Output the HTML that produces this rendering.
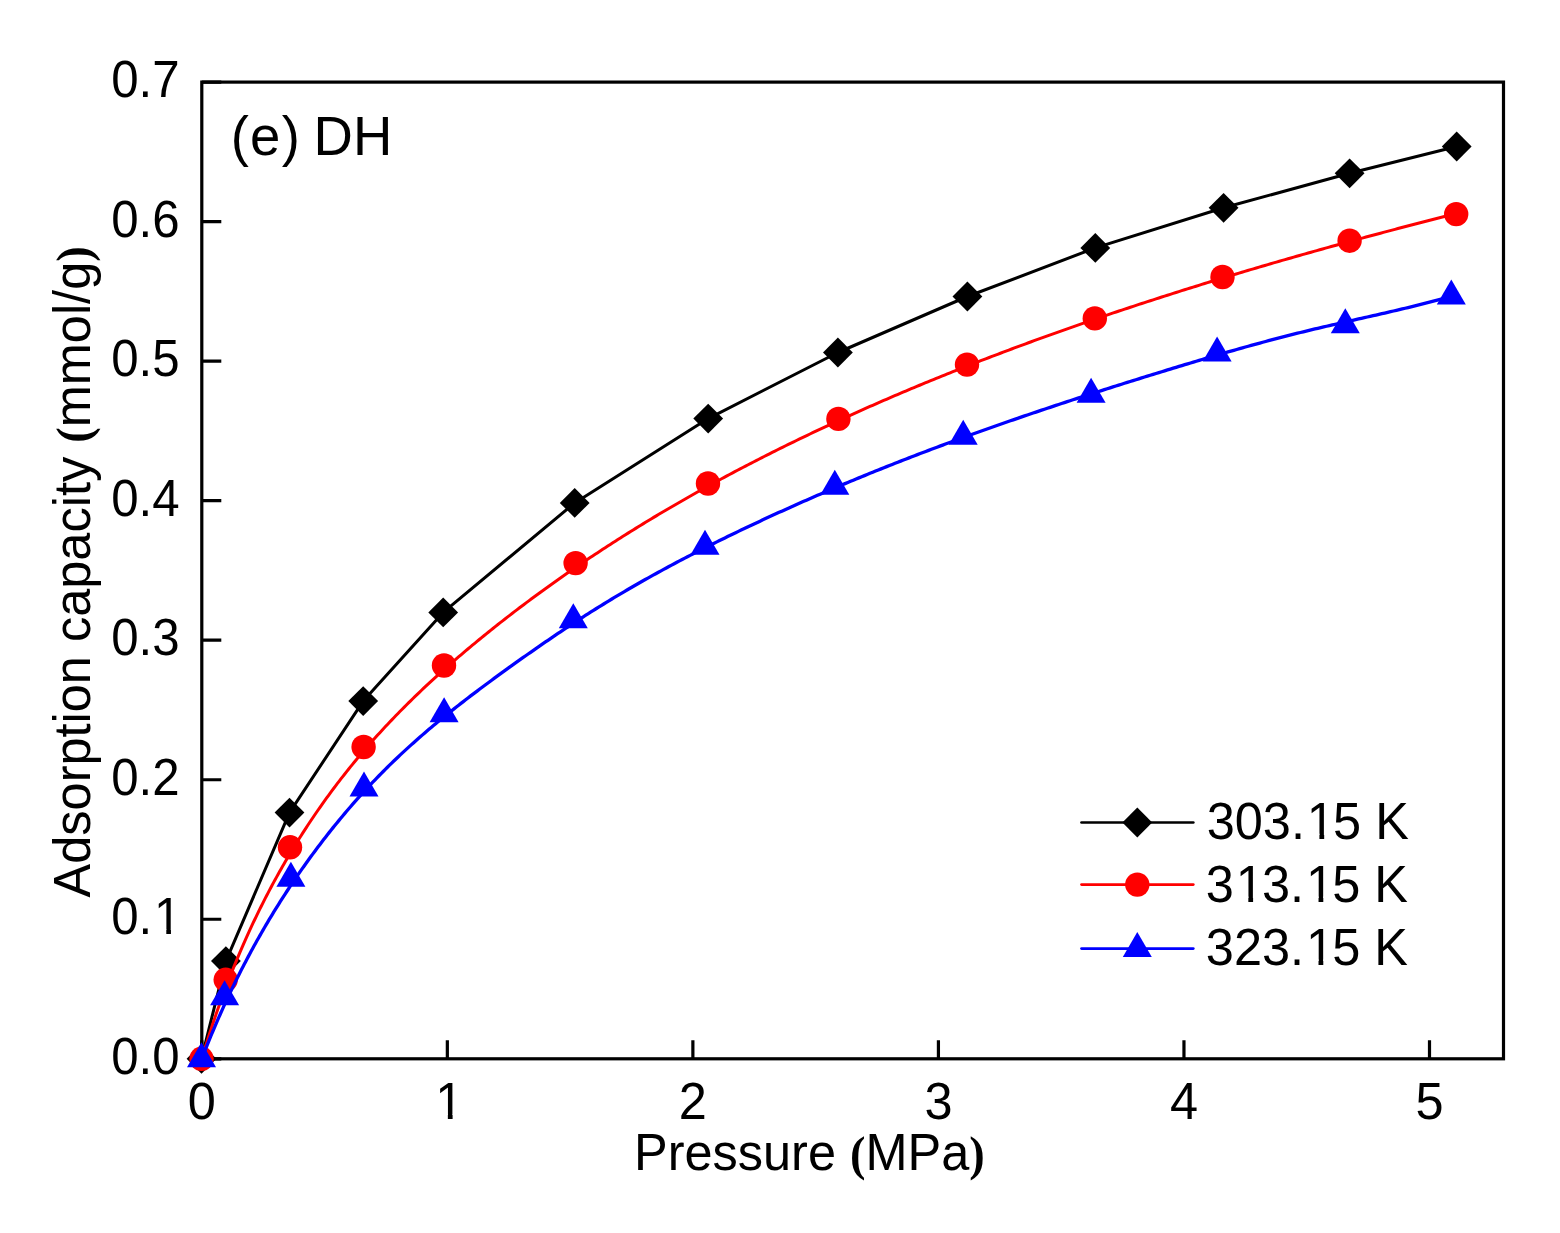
<!DOCTYPE html><html><head><meta charset="utf-8"><title>Adsorption capacity</title><style>html,body{margin:0;padding:0;background:#fff}svg{display:block}text{font-family:"Liberation Sans",Arial,sans-serif;fill:#000}.sf{font-family:"Liberation Serif","Times New Roman",serif;font-weight:bold}</style></head><body>
<svg width="1560" height="1233" viewBox="0 0 1560 1233">
<rect width="1560" height="1233" fill="#fff"/>
<rect x="201.8" y="82.1" width="1301.7" height="976.7" fill="none" stroke="#000" stroke-width="3.2"/>
<path fill="none" stroke="#000" stroke-width="3.2" d="M201.8 1058.8H221.3 M201.8 919.271H221.3 M201.8 779.743H221.3 M201.8 640.214H221.3 M201.8 500.686H221.3 M201.8 361.157H221.3 M201.8 221.629H221.3 M201.8 82.1H221.3 M201.8 1058.8V1040.2 M447.34 1058.8V1040.2 M692.88 1058.8V1040.2 M938.42 1058.8V1040.2 M1183.96 1058.8V1040.2 M1429.5 1058.8V1040.2"/>
<path fill="none" stroke="#000" stroke-width="3" stroke-linejoin="round" d="M201.5 1058.8 L225.9 961.1 L289.5 812.6 L363.2 701.1 L443.2 612.4 L574.7 502.9 L708.2 418.6 L837.9 352.5 L967.4 296.5 L1095.3 247.9 L1223.6 207.8 L1349.6 173.3 L1456.7 146.5"/>
<g fill="#000"><path d="M201.5 1043.9L216.4 1058.8L201.5 1073.7L186.6 1058.8Z"/><path d="M225.9 946.2L240.8 961.1L225.9 976L211 961.1Z"/><path d="M289.5 797.7L304.4 812.6L289.5 827.5L274.6 812.6Z"/><path d="M363.2 686.2L378.1 701.1L363.2 716L348.3 701.1Z"/><path d="M443.2 597.5L458.1 612.4L443.2 627.3L428.3 612.4Z"/><path d="M574.7 488L589.6 502.9L574.7 517.8L559.8 502.9Z"/><path d="M708.2 403.7L723.1 418.6L708.2 433.5L693.3 418.6Z"/><path d="M837.9 337.6L852.8 352.5L837.9 367.4L823 352.5Z"/><path d="M967.4 281.6L982.3 296.5L967.4 311.4L952.5 296.5Z"/><path d="M1095.3 233L1110.2 247.9L1095.3 262.8L1080.4 247.9Z"/><path d="M1223.6 192.9L1238.5 207.8L1223.6 222.7L1208.7 207.8Z"/><path d="M1349.6 158.4L1364.5 173.3L1349.6 188.2L1334.7 173.3Z"/><path d="M1456.7 131.6L1471.6 146.5L1456.7 161.4L1441.8 146.5Z"/></g>
<path fill="none" stroke="#f00" stroke-width="3" stroke-linejoin="round" d="M201.8 1058.8 L202.639 1055.994 L203.487 1053.174 L204.342 1050.356 L205.205 1047.538 L206.076 1044.723 L206.955 1041.908 L207.842 1039.096 L208.737 1036.284 L209.641 1033.474 L210.553 1030.666 L211.474 1027.86 L212.403 1025.055 L213.34 1022.251 L214.286 1019.45 L215.241 1016.65 L216.204 1013.851 L217.177 1011.055 L218.158 1008.26 L219.148 1005.467 L220.146 1002.676 L221.154 999.887 L222.171 997.1 L223.197 994.315 L224.232 991.532 L225.277 988.751 L226.331 985.971 L227.394 983.194 L228.466 980.42 L229.548 977.647 L230.639 974.877 L231.74 972.109 L232.85 969.343 L233.97 966.579 L235.1 963.818 L236.24 961.06 L237.389 958.304 L238.548 955.551 L239.716 952.8 L240.895 950.052 L242.084 947.306 L243.282 944.564 L244.491 941.824 L245.709 939.087 L246.938 936.353 L248.176 933.623 L249.425 930.895 L250.684 928.17 L251.953 925.449 L253.232 922.731 L254.521 920.016 L255.821 917.305 L257.131 914.598 L258.451 911.893 L259.781 909.193 L261.122 906.496 L262.473 903.803 L263.834 901.115 L265.205 898.43 L266.587 895.749 L267.979 893.072 L269.382 890.4 L270.795 887.732 L272.218 885.068 L273.652 882.409 L275.095 879.754 L276.55 877.105 L278.014 874.46 L279.489 871.82 L280.974 869.185 L282.469 866.555 L283.975 863.931 L285.491 861.312 L287.017 858.698 L288.554 856.09 L290.1 853.488 L291.657 850.892 L293.224 848.302 L294.801 845.718 L296.388 843.14 L297.986 840.568 L299.593 838.003 L301.21 835.445 L302.838 832.893 L304.475 830.349 L306.123 827.811 L307.78 825.281 L309.447 822.758 L311.124 820.242 L312.81 817.735 L314.507 815.235 L316.213 812.743 L317.929 810.258 L319.654 807.782 L321.389 805.313 L323.133 802.853 L324.887 800.4 L326.651 797.955 L328.423 795.519 L330.205 793.091 L331.997 790.671 L333.797 788.259 L335.607 785.855 L337.426 783.46 L339.254 781.073 L341.091 778.694 L342.937 776.323 L344.792 773.962 L346.655 771.608 L348.528 769.263 L350.409 766.926 L352.299 764.598 L354.197 762.279 L356.104 759.968 L358.02 757.665 L359.944 755.372 L361.876 753.086 L363.817 750.81 L365.766 748.542 L367.723 746.283 L369.688 744.032 L371.662 741.79 L373.643 739.557 L375.633 737.333 L377.63 735.117 L379.635 732.91 L381.648 730.712 L383.669 728.522 L385.697 726.341 L387.733 724.168 L389.776 722.004 L391.827 719.848 L393.885 717.7 L395.951 715.561 L398.024 713.43 L400.104 711.306 L402.192 709.191 L404.286 707.084 L406.388 704.985 L408.496 702.893 L410.612 700.809 L412.734 698.733 L414.863 696.664 L416.999 694.603 L419.142 692.549 L421.291 690.502 L423.447 688.463 L425.609 686.43 L427.778 684.405 L429.953 682.386 L432.135 680.374 L434.322 678.369 L436.517 676.371 L438.717 674.378 L440.923 672.393 L443.136 670.413 L445.354 668.44 L447.579 666.472 L449.809 664.511 L452.045 662.555 L454.288 660.605 L456.535 658.66 L458.789 656.721 L461.048 654.787 L463.313 652.858 L465.583 650.935 L467.859 649.016 L470.14 647.103 L472.427 645.194 L474.719 643.29 L477.016 641.392 L479.319 639.498 L481.627 637.609 L483.94 635.725 L486.258 633.846 L488.581 631.972 L490.909 630.103 L493.242 628.239 L495.58 626.379 L497.923 624.525 L500.271 622.675 L502.624 620.831 L504.981 618.991 L507.343 617.156 L509.71 615.325 L512.081 613.5 L514.457 611.679 L516.837 609.864 L519.222 608.053 L521.611 606.247 L524.005 604.445 L526.403 602.649 L528.806 600.857 L531.213 599.07 L533.624 597.288 L536.039 595.511 L538.459 593.738 L540.882 591.971 L543.31 590.208 L545.742 588.449 L548.177 586.696 L550.617 584.947 L553.061 583.204 L555.509 581.465 L557.96 579.73 L560.416 578.001 L562.875 576.276 L565.338 574.556 L567.805 572.841 L570.276 571.131 L572.75 569.425 L575.228 567.724 L577.709 566.028 L580.194 564.337 L582.683 562.651 L585.175 560.969 L587.671 559.292 L590.17 557.62 L592.673 555.953 L595.179 554.291 L597.688 552.633 L600.201 550.981 L602.717 549.333 L605.236 547.69 L607.759 546.052 L610.285 544.419 L612.814 542.79 L615.346 541.167 L617.882 539.548 L620.42 537.934 L622.962 536.326 L625.506 534.722 L628.054 533.123 L630.605 531.529 L633.159 529.939 L635.715 528.355 L638.275 526.776 L640.838 525.202 L643.403 523.632 L645.972 522.068 L648.543 520.509 L651.117 518.954 L653.694 517.405 L656.273 515.86 L658.856 514.32 L661.441 512.785 L664.029 511.255 L666.619 509.73 L669.212 508.209 L671.808 506.694 L674.407 505.183 L677.008 503.676 L679.611 502.175 L682.217 500.678 L684.826 499.186 L687.437 497.698 L690.051 496.216 L692.667 494.737 L695.286 493.264 L697.907 491.795 L700.53 490.33 L703.156 488.87 L705.785 487.415 L708.415 485.964 L711.048 484.517 L713.684 483.075 L716.321 481.638 L718.961 480.205 L721.603 478.776 L724.247 477.352 L726.894 475.932 L729.543 474.516 L732.194 473.105 L734.847 471.698 L737.502 470.296 L740.16 468.897 L742.82 467.503 L745.481 466.113 L748.145 464.728 L750.811 463.347 L753.479 461.969 L756.149 460.596 L758.821 459.228 L761.495 457.863 L764.171 456.503 L766.849 455.146 L769.529 453.794 L772.211 452.446 L774.895 451.101 L777.581 449.761 L780.269 448.425 L782.958 447.093 L785.65 445.765 L788.343 444.441 L791.038 443.121 L793.735 441.805 L796.434 440.492 L799.135 439.184 L801.838 437.88 L804.542 436.579 L807.248 435.282 L809.956 433.99 L812.665 432.7 L815.376 431.415 L818.089 430.134 L820.804 428.856 L823.521 427.582 L826.239 426.312 L828.958 425.046 L831.68 423.783 L834.403 422.524 L837.127 421.269 L839.854 420.018 L842.582 418.77 L845.311 417.526 L848.042 416.285 L850.775 415.048 L853.509 413.815 L856.245 412.585 L858.982 411.359 L861.721 410.136 L864.461 408.917 L867.203 407.701 L869.946 406.489 L872.691 405.281 L875.437 404.075 L878.185 402.874 L880.934 401.676 L883.685 400.481 L886.437 399.29 L889.19 398.102 L891.945 396.917 L894.702 395.736 L897.459 394.558 L900.218 393.384 L902.979 392.213 L905.741 391.045 L908.504 389.881 L911.268 388.72 L914.034 387.562 L916.801 386.407 L919.57 385.256 L922.339 384.108 L925.11 382.963 L927.883 381.822 L930.656 380.683 L933.431 379.548 L936.207 378.416 L938.985 377.287 L941.764 376.161 L944.543 375.039 L947.325 373.919 L950.107 372.803 L952.89 371.69 L955.675 370.58 L958.461 369.473 L961.248 368.368 L964.036 367.268 L966.826 366.17 L969.617 365.075 L972.408 363.983 L975.201 362.894 L977.995 361.808 L980.79 360.725 L983.587 359.645 L986.384 358.568 L989.183 357.494 L991.982 356.422 L994.783 355.354 L997.585 354.289 L1000.388 353.226 L1003.192 352.167 L1005.997 351.11 L1008.803 350.056 L1011.61 349.005 L1014.418 347.956 L1017.227 346.911 L1020.037 345.868 L1022.849 344.828 L1025.661 343.791 L1028.474 342.757 L1031.288 341.725 L1034.104 340.696 L1036.92 339.67 L1039.737 338.647 L1042.555 337.626 L1045.374 336.608 L1048.195 335.592 L1051.016 334.58 L1053.838 333.57 L1056.661 332.562 L1059.484 331.557 L1062.309 330.555 L1065.135 329.556 L1067.962 328.559 L1070.789 327.564 L1073.618 326.573 L1076.447 325.583 L1079.278 324.597 L1082.109 323.613 L1084.941 322.631 L1087.774 321.652 L1090.608 320.676 L1093.442 319.701 L1096.278 318.73 L1099.114 317.761 L1101.951 316.794 L1104.789 315.83 L1107.628 314.868 L1110.468 313.909 L1113.309 312.952 L1116.15 311.998 L1118.992 311.046 L1121.835 310.096 L1124.679 309.149 L1127.524 308.204 L1130.369 307.261 L1133.216 306.321 L1136.063 305.383 L1138.91 304.448 L1141.759 303.515 L1144.608 302.584 L1147.459 301.655 L1150.309 300.729 L1153.161 299.805 L1156.014 298.883 L1158.867 297.963 L1161.721 297.046 L1164.575 296.131 L1167.431 295.218 L1170.287 294.308 L1173.143 293.399 L1176.001 292.493 L1178.859 291.589 L1181.718 290.687 L1184.578 289.788 L1187.438 288.89 L1190.299 287.995 L1193.161 287.102 L1196.024 286.21 L1198.887 285.321 L1201.751 284.435 L1204.615 283.55 L1207.48 282.667 L1210.346 281.786 L1213.213 280.908 L1216.08 280.031 L1218.948 279.157 L1221.816 278.285 L1224.685 277.414 L1227.555 276.546 L1230.426 275.68 L1233.297 274.815 L1236.168 273.953 L1239.041 273.093 L1241.914 272.234 L1244.787 271.378 L1247.662 270.523 L1250.536 269.671 L1253.412 268.82 L1256.288 267.972 L1259.164 267.125 L1262.042 266.28 L1264.92 265.437 L1267.798 264.596 L1270.677 263.757 L1273.557 262.92 L1276.437 262.085 L1279.318 261.251 L1282.199 260.419 L1285.081 259.589 L1287.963 258.761 L1290.846 257.935 L1293.73 257.111 L1296.614 256.288 L1299.499 255.468 L1302.384 254.649 L1305.27 253.831 L1308.156 253.016 L1311.043 252.202 L1313.931 251.39 L1316.819 250.58 L1319.707 249.772 L1322.596 248.965 L1325.486 248.16 L1328.376 247.356 L1331.267 246.555 L1334.158 245.755 L1337.049 244.957 L1339.942 244.16 L1342.834 243.365 L1345.727 242.572 L1348.621 241.78 L1351.515 240.99 L1354.41 240.202 L1357.305 239.415 L1360.201 238.63 L1363.097 237.847 L1365.994 237.065 L1368.891 236.285 L1371.788 235.506 L1374.686 234.729 L1377.585 233.954 L1380.484 233.18 L1383.383 232.407 L1386.283 231.636 L1389.184 230.867 L1392.085 230.099 L1394.986 229.333 L1397.888 228.568 L1400.79 227.805 L1403.693 227.043 L1406.596 226.283 L1409.5 225.524 L1412.404 224.766 L1415.308 224.011 L1418.213 223.256 L1421.118 222.503 L1424.024 221.752 L1426.93 221.002 L1429.837 220.253 L1432.744 219.506 L1435.652 218.76 L1438.559 218.015 L1441.468 217.272 L1444.377 216.531 L1447.286 215.79 L1450.195 215.051 L1453.105 214.314 L1456.016 213.578 L1456.2 213.531"/>
<g fill="#f00"><circle cx="201.5" cy="1058.8" r="12.2"/><circle cx="225.7" cy="979.8" r="12.2"/><circle cx="290" cy="847.3" r="12.2"/><circle cx="363.6" cy="747" r="12.2"/><circle cx="444" cy="665.5" r="12.2"/><circle cx="575.6" cy="563.1" r="12.2"/><circle cx="708" cy="483.5" r="12.2"/><circle cx="838.4" cy="418.9" r="12.2"/><circle cx="967" cy="364.6" r="12.2"/><circle cx="1094.8" cy="318.4" r="12.2"/><circle cx="1222.5" cy="277" r="12.2"/><circle cx="1349.6" cy="240.7" r="12.2"/><circle cx="1456.2" cy="214.1" r="12.2"/></g>
<path fill="none" stroke="#00f" stroke-width="3.3" stroke-linejoin="round" d="M201.8 1058.8 L202.857 1056.061 L203.924 1053.324 L204.998 1050.589 L206.082 1047.856 L207.174 1045.125 L208.275 1042.396 L209.385 1039.669 L210.504 1036.944 L211.632 1034.222 L212.769 1031.501 L213.915 1028.783 L215.07 1026.067 L216.234 1023.353 L217.408 1020.642 L218.59 1017.932 L219.782 1015.225 L220.983 1012.521 L222.194 1009.819 L223.414 1007.119 L224.643 1004.422 L225.882 1001.728 L227.13 999.036 L228.388 996.347 L229.656 993.66 L230.933 990.976 L232.219 988.295 L233.516 985.617 L234.822 982.941 L236.138 980.269 L237.463 977.599 L238.798 974.932 L240.143 972.269 L241.498 969.608 L242.863 966.951 L244.237 964.297 L245.622 961.646 L247.016 958.998 L248.42 956.354 L249.834 953.713 L251.258 951.075 L252.692 948.441 L254.136 945.811 L255.59 943.184 L257.054 940.561 L258.528 937.942 L260.012 935.327 L261.506 932.715 L263.009 930.108 L264.523 927.504 L266.047 924.905 L267.58 922.31 L269.124 919.719 L270.677 917.132 L272.241 914.55 L273.814 911.972 L275.398 909.399 L276.991 906.831 L278.594 904.267 L280.207 901.708 L281.83 899.154 L283.463 896.605 L285.106 894.061 L286.758 891.522 L288.421 888.989 L290.093 886.461 L291.774 883.938 L293.466 881.42 L295.167 878.909 L296.878 876.403 L298.598 873.903 L300.328 871.408 L302.068 868.92 L303.817 866.438 L305.576 863.962 L307.344 861.493 L309.121 859.03 L310.908 856.573 L312.705 854.124 L314.51 851.681 L316.325 849.244 L318.149 846.815 L319.983 844.393 L321.825 841.979 L323.677 839.572 L325.537 837.172 L327.407 834.78 L329.285 832.395 L331.173 830.019 L333.069 827.651 L334.974 825.29 L336.888 822.938 L338.811 820.595 L340.742 818.26 L342.682 815.934 L344.63 813.617 L346.587 811.308 L348.552 809.009 L350.526 806.719 L352.508 804.439 L354.498 802.168 L356.497 799.907 L358.504 797.656 L360.519 795.415 L362.542 793.185 L364.573 790.964 L366.611 788.754 L368.658 786.555 L370.713 784.367 L372.775 782.19 L374.845 780.024 L376.923 777.87 L379.008 775.727 L381.101 773.596 L383.201 771.475 L385.309 769.367 L387.424 767.269 L389.547 765.182 L391.677 763.107 L393.813 761.042 L395.957 758.988 L398.108 756.944 L400.266 754.911 L402.432 752.888 L404.603 750.876 L406.782 748.873 L408.968 746.88 L411.16 744.897 L413.359 742.924 L415.564 740.96 L417.776 739.005 L419.995 737.059 L422.22 735.122 L424.451 733.194 L426.689 731.275 L428.933 729.364 L431.183 727.461 L433.439 725.567 L435.702 723.68 L437.97 721.8 L440.245 719.929 L442.525 718.064 L444.811 716.207 L447.103 714.356 L449.401 712.513 L451.705 710.675 L454.014 708.844 L456.329 707.019 L458.649 705.2 L460.975 703.386 L463.306 701.578 L465.643 699.774 L467.985 697.976 L470.333 696.182 L472.685 694.393 L475.043 692.608 L477.406 690.827 L479.774 689.05 L482.147 687.276 L484.526 685.506 L486.909 683.738 L489.297 681.974 L491.69 680.211 L494.087 678.451 L496.49 676.693 L498.897 674.937 L501.309 673.182 L503.726 671.429 L506.147 669.677 L508.573 667.927 L511.003 666.179 L513.438 664.433 L515.877 662.689 L518.32 660.948 L520.768 659.208 L523.22 657.471 L525.677 655.737 L528.137 654.005 L530.602 652.277 L533.071 650.551 L535.544 648.828 L538.021 647.108 L540.502 645.392 L542.988 643.679 L545.477 641.97 L547.97 640.265 L550.466 638.563 L552.967 636.865 L555.471 635.172 L557.98 633.483 L560.491 631.798 L563.007 630.118 L565.526 628.442 L568.049 626.772 L570.576 625.106 L573.106 623.446 L575.639 621.791 L578.176 620.141 L580.717 618.497 L583.26 616.859 L585.808 615.226 L588.358 613.6 L590.912 611.98 L593.469 610.367 L596.03 608.76 L598.593 607.16 L601.16 605.567 L603.73 603.981 L606.304 602.402 L608.88 600.831 L611.459 599.267 L614.042 597.71 L616.627 596.16 L619.216 594.617 L621.807 593.081 L624.401 591.551 L626.999 590.029 L629.599 588.513 L632.202 587.005 L634.808 585.502 L637.416 584.007 L640.028 582.518 L642.642 581.035 L645.259 579.558 L647.879 578.088 L650.501 576.625 L653.126 575.167 L655.754 573.715 L658.384 572.27 L661.017 570.83 L663.652 569.397 L666.29 567.969 L668.93 566.547 L671.573 565.131 L674.219 563.72 L676.866 562.315 L679.517 560.915 L682.169 559.521 L684.824 558.132 L687.482 556.749 L690.142 555.37 L692.804 553.997 L695.468 552.629 L698.135 551.266 L700.804 549.908 L703.475 548.554 L706.148 547.206 L708.824 545.862 L711.502 544.523 L714.182 543.188 L716.864 541.858 L719.548 540.532 L722.234 539.211 L724.923 537.894 L727.613 536.581 L730.306 535.273 L733.001 533.968 L735.697 532.668 L738.396 531.371 L741.096 530.078 L743.799 528.789 L746.504 527.504 L749.21 526.223 L751.918 524.945 L754.629 523.671 L757.341 522.401 L760.055 521.134 L762.771 519.871 L765.489 518.611 L768.208 517.356 L770.93 516.103 L773.653 514.855 L776.378 513.61 L779.104 512.368 L781.833 511.131 L784.563 509.896 L787.295 508.666 L790.029 507.438 L792.764 506.215 L795.501 504.995 L798.24 503.778 L800.98 502.565 L803.722 501.355 L806.466 500.149 L809.211 498.946 L811.958 497.747 L814.706 496.551 L817.456 495.358 L820.207 494.169 L822.961 492.984 L825.715 491.801 L828.471 490.623 L831.229 489.447 L833.988 488.275 L836.749 487.106 L839.511 485.941 L842.274 484.779 L845.039 483.62 L847.806 482.465 L850.574 481.312 L853.343 480.164 L856.114 479.018 L858.886 477.876 L861.659 476.737 L864.434 475.601 L867.21 474.469 L869.988 473.34 L872.767 472.214 L875.547 471.091 L878.329 469.971 L881.112 468.855 L883.896 467.742 L886.681 466.632 L889.468 465.526 L892.256 464.422 L895.045 463.322 L897.836 462.225 L900.628 461.131 L903.421 460.04 L906.215 458.952 L909.01 457.868 L911.807 456.786 L914.605 455.708 L917.404 454.633 L920.204 453.561 L923.005 452.492 L925.808 451.427 L928.612 450.364 L931.416 449.304 L934.222 448.248 L937.03 447.195 L939.838 446.144 L942.647 445.097 L945.458 444.053 L948.269 443.011 L951.082 441.973 L953.895 440.938 L956.71 439.905 L959.526 438.875 L962.343 437.849 L965.161 436.825 L967.98 435.804 L970.8 434.785 L973.621 433.77 L976.443 432.757 L979.266 431.747 L982.09 430.739 L984.915 429.735 L987.741 428.732 L990.568 427.733 L993.396 426.736 L996.225 425.742 L999.054 424.75 L1001.885 423.761 L1004.717 422.774 L1007.55 421.79 L1010.383 420.808 L1013.218 419.829 L1016.054 418.852 L1018.89 417.878 L1021.727 416.906 L1024.565 415.936 L1027.405 414.968 L1030.245 414.003 L1033.085 413.04 L1035.927 412.08 L1038.77 411.121 L1041.613 410.165 L1044.458 409.211 L1047.303 408.259 L1050.149 407.31 L1052.996 406.362 L1055.843 405.417 L1058.692 404.473 L1061.541 403.532 L1064.391 402.593 L1067.242 401.656 L1070.094 400.72 L1072.947 399.787 L1075.8 398.856 L1078.654 397.926 L1081.509 396.999 L1084.365 396.073 L1087.221 395.149 L1090.078 394.227 L1092.936 393.307 L1095.795 392.389 L1098.655 391.472 L1101.515 390.557 L1104.376 389.644 L1107.238 388.733 L1110.1 387.823 L1112.963 386.915 L1115.827 386.008 L1118.692 385.104 L1121.557 384.2 L1124.423 383.299 L1127.29 382.398 L1130.157 381.5 L1133.026 380.603 L1135.894 379.707 L1138.764 378.813 L1141.634 377.92 L1144.505 377.029 L1147.376 376.139 L1150.249 375.251 L1153.122 374.363 L1155.995 373.478 L1158.869 372.593 L1161.744 371.71 L1164.619 370.828 L1167.496 369.948 L1170.372 369.069 L1173.25 368.192 L1176.128 367.316 L1179.006 366.442 L1181.886 365.57 L1184.765 364.701 L1187.646 363.833 L1190.527 362.967 L1193.409 362.103 L1196.291 361.242 L1199.174 360.383 L1202.057 359.527 L1204.941 358.673 L1207.826 357.822 L1210.711 356.973 L1213.597 356.128 L1216.483 355.285 L1219.37 354.445 L1222.258 353.608 L1225.146 352.775 L1228.034 351.944 L1230.923 351.117 L1233.813 350.294 L1236.703 349.474 L1239.594 348.657 L1242.486 347.844 L1245.378 347.035 L1248.27 346.23 L1251.163 345.428 L1254.056 344.631 L1256.95 343.838 L1259.845 343.049 L1262.74 342.264 L1265.636 341.484 L1268.532 340.708 L1271.428 339.937 L1274.325 339.17 L1277.223 338.408 L1280.121 337.651 L1283.02 336.898 L1285.919 336.151 L1288.818 335.409 L1291.719 334.672 L1294.619 333.94 L1297.52 333.213 L1300.422 332.492 L1303.324 331.777 L1306.226 331.067 L1309.129 330.363 L1312.032 329.664 L1314.936 328.971 L1317.841 328.283 L1320.745 327.599 L1323.651 326.92 L1326.556 326.244 L1329.462 325.572 L1332.369 324.904 L1335.276 324.238 L1338.184 323.575 L1341.091 322.914 L1344 322.254 L1346.909 321.597 L1349.818 320.94 L1352.727 320.285 L1355.638 319.63 L1358.548 318.975 L1361.459 318.319 L1364.37 317.664 L1367.282 317.007 L1370.194 316.349 L1373.107 315.69 L1376.02 315.029 L1378.933 314.365 L1381.847 313.699 L1384.761 313.03 L1387.676 312.357 L1390.591 311.681 L1393.506 311.001 L1396.422 310.317 L1399.338 309.628 L1402.255 308.933 L1405.172 308.234 L1408.089 307.528 L1411.007 306.817 L1413.925 306.099 L1416.843 305.374 L1419.762 304.643 L1422.681 303.903 L1425.601 303.156 L1428.521 302.401 L1431.441 301.637 L1434.362 300.864 L1437.283 300.082 L1440.204 299.291 L1443.126 298.489 L1446.048 297.677 L1448.971 296.855 L1451.3 296.192"/>
<g fill="#00f"><path d="M201.5 1042.133L216 1067.133L187 1067.133Z"/><path d="M224.6 980.133L239.1 1005.133L210.1 1005.133Z"/><path d="M290.9 861.633L305.4 886.633L276.4 886.633Z"/><path d="M364 771.533L378.5 796.533L349.5 796.533Z"/><path d="M444.1 697.233L458.6 722.233L429.6 722.233Z"/><path d="M573.3 603.233L587.8 628.233L558.8 628.233Z"/><path d="M705 529.833L719.5 554.833L690.5 554.833Z"/><path d="M834.8 469.633L849.3 494.633L820.3 494.633Z"/><path d="M963.2 419.633L977.7 444.633L948.7 444.633Z"/><path d="M1091.1 377.833L1105.6 402.833L1076.6 402.833Z"/><path d="M1217.1 336.533L1231.6 361.533L1202.6 361.533Z"/><path d="M1345.3 308.233L1359.8 333.233L1330.8 333.233Z"/><path d="M1451.3 279.533L1465.8 304.533L1436.8 304.533Z"/></g>
<text transform="translate(111.153 1074) scale(0.975 1.035)" font-size="50.5">0.0</text>
<text transform="translate(111.153 934.471) scale(0.975 1.035)" font-size="50.5">0.<tspan dx="1.9">1</tspan></text>
<text transform="translate(111.153 794.943) scale(0.975 1.035)" font-size="50.5">0.2</text>
<text transform="translate(111.153 655.414) scale(0.975 1.035)" font-size="50.5">0.3</text>
<text transform="translate(111.153 515.886) scale(0.975 1.035)" font-size="50.5">0.4</text>
<text transform="translate(111.153 376.357) scale(0.975 1.035)" font-size="50.5">0.5</text>
<text transform="translate(111.153 236.829) scale(0.975 1.035)" font-size="50.5">0.6</text>
<text transform="translate(111.153 97.3) scale(0.975 1.035)" font-size="50.5">0.7</text>
<text transform="translate(201.8 1119.4) scale(1 1.035)" font-size="50.5" text-anchor="middle">0</text>
<text transform="translate(449.34 1119.4) scale(1 1.035)" font-size="50.5" text-anchor="middle">1</text>
<text transform="translate(692.88 1119.4) scale(1 1.035)" font-size="50.5" text-anchor="middle">2</text>
<text transform="translate(938.42 1119.4) scale(1 1.035)" font-size="50.5" text-anchor="middle">3</text>
<text transform="translate(1183.96 1119.4) scale(1 1.035)" font-size="50.5" text-anchor="middle">4</text>
<text transform="translate(1429.5 1119.4) scale(1 1.035)" font-size="50.5" text-anchor="middle">5</text>
<text transform="translate(634 1169.7) scale(1 1.035)" font-size="50.5">Pressure <tspan class="sf" font-size="46.5">(</tspan>MPa<tspan class="sf" font-size="46.5">)</tspan></text>
<text transform="translate(90.1 897.4) rotate(-90) scale(1 1.035)" font-size="50.5">Adsorption capacity <tspan class="sf" font-size="46.5">(</tspan>mmol/g<tspan class="sf" font-size="46.5">)</tspan></text>
<text transform="translate(230.8 154.8) scale(1 1.032)" font-size="54.5">(<tspan dx="1">e</tspan><tspan dx="1.5">)</tspan><tspan dx="-1.5"> DH</tspan></text>
<path d="M1081.5 822.5H1193.3" stroke="#000" stroke-width="2.7" stroke-linecap="round" fill="none"/>
<g fill="#000"><path d="M1137.3 807.6L1152.2 822.5L1137.3 837.4L1122.4 822.5Z"/></g>
<text transform="translate(1206.7 838.9) scale(1 1.035)" font-size="50.5">303.<tspan dx="1.9">1</tspan><tspan dx="-1.9">5</tspan> K</text>
<path d="M1081.5 884.6H1193.3" stroke="#f00" stroke-width="2.7" stroke-linecap="round" fill="none"/>
<g fill="#f00"><circle cx="1137.3" cy="884.6" r="12.2"/></g>
<text transform="translate(1205.8 901.7) scale(1 1.035)" font-size="50.5">3<tspan dx="1.9">1</tspan><tspan dx="-1.9">3</tspan>.<tspan dx="1.9">1</tspan><tspan dx="-1.9">5</tspan> K</text>
<path d="M1081.5 948.6H1193.3" stroke="#00f" stroke-width="2.7" stroke-linecap="round" fill="none"/>
<g fill="#00f"><path d="M1137.3 931.933L1151.8 956.933L1122.8 956.933Z"/></g>
<text transform="translate(1205.8 964.6) scale(1 1.035)" font-size="50.5">323.<tspan dx="1.9">1</tspan><tspan dx="-1.9">5</tspan> K</text>
<g fill="#fff"><rect x="156.62" y="929.27" width="9.68" height="6.10"/><rect x="170.95" y="929.27" width="9.30" height="6.10"/><rect x="437.95" y="1114.20" width="9.90" height="6.10"/><rect x="452.61" y="1114.20" width="9.51" height="6.10"/><rect x="1309.51" y="833.70" width="9.90" height="6.10"/><rect x="1324.18" y="833.70" width="9.51" height="6.10"/><rect x="1238.43" y="896.50" width="9.90" height="6.10"/><rect x="1253.09" y="896.50" width="9.51" height="6.10"/><rect x="1308.63" y="896.50" width="9.90" height="6.10"/><rect x="1323.29" y="896.50" width="9.51" height="6.10"/><rect x="1308.61" y="959.40" width="9.90" height="6.10"/><rect x="1323.28" y="959.40" width="9.51" height="6.10"/></g>
</svg></body></html>
